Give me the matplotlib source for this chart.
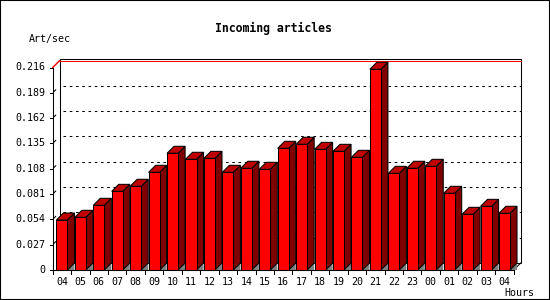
import matplotlib
matplotlib.use("Agg")
import matplotlib.pyplot as plt
from matplotlib.patches import Rectangle, Polygon

hours = ["04", "05", "06", "07", "08", "09", "10", "11", "12", "13", "14", "15",
         "16", "17", "18", "19", "20", "21", "22", "23", "00", "01", "02", "03", "04"]
rates = [0.0533, 0.0562, 0.0690, 0.0839, 0.0893, 0.1042, 0.1245, 0.1181, 0.1191,
         0.1042, 0.1085, 0.1074, 0.1298, 0.1341, 0.1287, 0.1266, 0.1202, 0.2141,
         0.1031, 0.1085, 0.1106, 0.0818, 0.0594, 0.0679, 0.0605]
y_ticks = [0, 0.027, 0.054, 0.081, 0.108, 0.135, 0.162, 0.189, 0.216]
y_tick_labels = ["0", "0.027", "0.054", "0.081", "0.108", "0.135", "0.162", "0.189", "0.216"]
title = "Incoming articles"
y_label = "Art/sec"
x_label = "Hours"

W, H = 550, 300
fig = plt.figure(figsize=(W / 100, H / 100), dpi=100)
fig.patch.set_facecolor("white")

ax_l, ax_b, ax_w, ax_h = 52.7, 30.0, 461.0, 202.5
ax = fig.add_axes([ax_l / W, ax_b / H, ax_w / W, ax_h / H])
n = len(rates)
ymax = y_ticks[-1]
ax.set_xlim(0, n)
ax.set_ylim(0, ymax)
ax.axis("off")

px = n / ax_w
py = ymax / ax_h
dx = 7 * px
dy = 7 * py
LW = 0.75
font = "DejaVu Sans Mono"

# back plane
ax.add_patch(Rectangle((dx, dy), n, ymax + 1.3 * py, facecolor="white",
                       edgecolor="black", lw=LW, zorder=1, clip_on=False))
# red max line
ax.plot([dx, n + dx], [ymax + dy, ymax + dy], color="#ff0000", lw=LW, zorder=2, clip_on=False)
ax.plot([0, dx], [ymax, ymax + dy], color="#ff0000", lw=LW, zorder=2, clip_on=False)
# grid
for v in y_ticks[1:-1]:
    ax.plot([dx + 3 * px, n + dx], [v + dy, v + dy], color="black", lw=LW,
            dashes=(2.5, 3.5), zorder=2, clip_on=False)
    ax.plot([1.5 * px, 3 * px], [v + 1.5 * py, v + 3 * py], color="black", lw=LW,
            zorder=2, clip_on=False)
# front axis
ax.plot([0, 0], [0, ymax], color="black", lw=LW, zorder=2, clip_on=False)
ax.plot([0, n], [0, 0], color="black", lw=LW, zorder=6, clip_on=False)
ax.plot([n, n + dx], [0, dy], color="black", lw=LW, zorder=2, clip_on=False)
ax.plot([0, dx], [ymax, ymax + dy], color="#ff0000", lw=LW, zorder=2, clip_on=False)

# y ticks and labels
for v, lab in zip(y_ticks, y_tick_labels):
    ax.plot([-3 * px, 0], [v, v], color="black", lw=LW, clip_on=False, zorder=3)
    ax.text(-7.5 * px, v, lab, ha="right", va="center", fontsize=7.2,
            family=font, color="black")

# x ticks and labels
for i in range(n + 1):
    ax.plot([i, i], [0, -3.5 * py], color="black", lw=LW, clip_on=False, zorder=3)
for i, lab in enumerate(hours):
    ax.text(i + 0.5, -12 * py, lab, ha="center", va="center", fontsize=7.2,
            family=font, color="black")

# bars
bw = 0.6
off = (1 - bw) / 2
for i, v in enumerate(rates):
    x0 = i + off
    x1 = x0 + bw
    ax.add_patch(Polygon([(x1, 0), (x1 + dx, dy), (x1 + dx, 0)], closed=True,
                         facecolor="#808080", edgecolor="none", zorder=3, clip_on=False))
    ax.add_patch(Polygon([(x1, 0), (x1 + dx, dy), (x1 + dx, v + dy), (x1, v)], closed=True,
                         facecolor="#800000", edgecolor="black", lw=LW, zorder=4, clip_on=False))
    ax.add_patch(Polygon([(x0, v), (x0 + dx, v + dy), (x1 + dx, v + dy), (x1, v)], closed=True,
                         facecolor="#c00000", edgecolor="black", lw=LW, zorder=4, clip_on=False))
    ax.add_patch(Rectangle((x0, 0), bw, v, facecolor="#ff0000", edgecolor="black",
                           lw=LW, zorder=5, clip_on=False))

fig.text(273.7 / W, 1 - 28 / H, title, ha="center", va="center", fontsize=8.3,
         family=font, fontweight="bold")
fig.text(29 / W, 1 - 39 / H, y_label, ha="left", va="center", fontsize=7.2, family=font)
fig.text(534 / W, 1 - 293 / H, x_label, ha="right", va="center", fontsize=7.2, family=font)

fig.patches.append(Rectangle((0, 0), 1, 1, transform=fig.transFigure, fill=False,
                             edgecolor="black", lw=1.5, zorder=10))

fig.savefig("out.png", dpi=100)
